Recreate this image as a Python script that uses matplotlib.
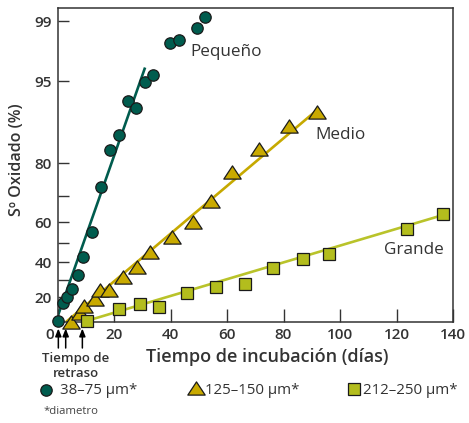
import numpy as np
import matplotlib
matplotlib.use("Agg")
import matplotlib.pyplot as plt
from matplotlib.path import Path
from matplotlib.lines import Line2D
import matplotlib.transforms as mtransforms

plt.rcParams['font.family'] = ['Open Sans', 'DejaVu Sans']

# ---------------- data ----------------
small_days = [0, 2.05, 3.3, 5.0, 7.4, 9.1, 12.2, 15.4, 18.6, 21.7, 24.8, 27.8, 31.0, 33.9, 39.8, 43.0, 49.3, 52.2]
small_pct = [10.4, 17.1, 19.8, 24.4, 32.6, 42.4, 55.4, 73.1, 83.8, 87.2, 92.8, 91.9, 94.9, 95.7, 98.17, 98.32, 98.78, 99.11]

medium_days = [4.67, 7.8, 9.4, 13.45, 15.2, 18.2, 23.2, 28.0, 32.9, 40.7, 47.9, 54.2, 61.7, 71.4, 81.9, 91.75]
medium_pct = [10.1, 12.8, 15.7, 19.0, 23.8, 23.8, 31.8, 37.1, 45.4, 52.9, 60.1, 68.3, 77.6, 83.9, 89.0, 91.3]

large_days = [10.3, 21.9, 29.2, 36.0, 45.9, 56.1, 66.4, 76.3, 86.8, 96.2, 123.8, 136.4]
large_pct = [10.4, 14.4, 16.5, 15.4, 22.3, 25.4, 27.4, 36.5, 41.5, 44.2, 56.6, 63.2]

small_fit_days = [0, 31.0]
small_fit_pct = [11.6, 96.5]
medium_fit_days = [3.0, 91.75]
medium_fit_pct = [10.0, 91.6]
large_fit_days = [9.0, 136.4]
large_fit_pct = [10.0, 62.8]

lag_days = [0.3, 2.9, 8.8]

y_major = [20, 40, 60, 80, 95, 99]
y_minor = [30, 50, 70]
x_ticks = [0, 20, 40, 60, 80, 100, 120, 140]

series_labels = ["38\u201375 \u00b5m*", "125\u2013150 \u00b5m*", "212\u2013250 \u00b5m*"]
curve_names = ["Peque\u00f1o", "Medio", "Grande"]

# ------------- custom probability-like axis (hand drawn scale) -------------
P_ANCH = np.array([1, 10, 20, 30, 40, 50, 60, 70, 80, 95, 99, 99.9])
U_ANCH = np.array([-74, 0, 25, 42, 60, 79, 100, 126, 159, 241, 301, 385], float)
L_ANCH = np.log(P_ANCH / (100 - P_ANCH))


def fwd(p):
    p = np.clip(np.asarray(p, float), 0.5, 99.95)
    L = np.log(p / (100 - p))
    return np.interp(L, L_ANCH, U_ANCH)


def inv(u):
    L = np.interp(np.asarray(u, float), U_ANCH, L_ANCH)
    return 100.0 / (1.0 + np.exp(-L))


# ---------------- figure ----------------
W, H = 469, 423
fig = plt.figure(figsize=(W / 100, H / 100), dpi=100)
fx = lambda px: px / W
fy = lambda py: 1 - py / H
ax = fig.add_axes([fx(57.5), fy(322), fx(453) - fx(57.5), fy(8) - fy(322)])
ax.set_yscale('function', functions=(fwd, inv))
ax.set_xlim(0, 140)
ax.set_ylim(10, 99.3)

teal = "#005c4e"
mustard = "#c9aa00"
olive = "#b3bd1d"
olive_line = "#b9c32a"
edge = "#1a1a1a"
txt = "#333333"

tri = Path([(0, 0.76), (-1, -0.76), (1, -0.76), (0, 0.76)],
           [Path.MOVETO, Path.LINETO, Path.LINETO, Path.CLOSEPOLY])

ax.plot(small_fit_days, small_fit_pct, color=teal, lw=1.9, zorder=2, solid_capstyle='butt')
ax.plot(medium_fit_days, medium_fit_pct, color="#c6a900", lw=1.9, zorder=2, solid_capstyle='butt')
ax.plot(large_fit_days, large_fit_pct, color=olive_line, lw=1.9, zorder=2, solid_capstyle='butt')

ax.plot(small_days, small_pct, ls='none', marker='o', ms=8.2, mfc=teal, mec=edge, mew=0.9,
        zorder=4, clip_on=False)
ax.plot(medium_days, medium_pct, ls='none', marker=tri, ms=12.5, mfc=mustard, mec=edge, mew=0.9,
        zorder=4, clip_on=False)
ax.plot(large_days, large_pct, ls='none', marker='s', ms=8.8, mfc=olive, mec=edge, mew=0.9,
        zorder=4, clip_on=False)

# ticks
ax.set_yticks(y_major)
ax.set_yticklabels([str(v) for v in y_major])
ax.set_yticks(y_minor, minor=True)
ax.yaxis.set_minor_formatter(matplotlib.ticker.NullFormatter())
ax.set_xticks(x_ticks)
ax.set_xticklabels([str(v) for v in x_ticks])
ax.xaxis.set_minor_locator(matplotlib.ticker.NullLocator())
ax.tick_params(axis='y', which='both', direction='in', length=8, width=1.0, color=txt,
               labelsize=11, labelcolor=txt, pad=4)
ax.tick_params(axis='x', which='both', direction='in', length=9.5, width=1.0, color=txt,
               labelsize=11, labelcolor=txt, pad=4.5)
for lab in ax.get_xticklabels() + ax.get_yticklabels():
    lab.set_fontweight('semibold')
first = ax.get_xticklabels()[0]
first.set_transform(first.get_transform() + mtransforms.ScaledTranslation(-8 / 100, 0, fig.dpi_scale_trans))

for s in ax.spines.values():
    s.set_linewidth(1.1)
    s.set_color(txt)

# axis labels
fig.text(fx(17), fy(160), "S\u00ba Oxidado (%)", rotation=90, ha='center', va='center',
         fontsize=11.5, fontweight='semibold', color=txt)
fig.text(fx(267), fy(357), "Tiempo de incubaci\u00f3n (d\u00edas)", ha='center', va='center',
         fontsize=13, fontweight='semibold', color=txt)

# curve names
ax.text((226 - 57.5) / 395.5, (322 - 52) / 314, curve_names[0], transform=ax.transAxes,
        ha='center', va='center', fontsize=12.3, color=txt)
ax.text((340 - 57.5) / 395.5, (322 - 135) / 314, curve_names[1], transform=ax.transAxes,
        ha='center', va='center', fontsize=12.3, color=txt)
ax.text((414 - 57.5) / 395.5, (322 - 250) / 314, curve_names[2], transform=ax.transAxes,
        ha='center', va='center', fontsize=12.3, color=txt)

# lag arrows
for d in lag_days:
    ax.annotate("", xy=(d, (322 - 328.5) / 314), xycoords=('data', 'axes fraction'),
                xytext=(d, (322 - 348) / 314), textcoords=('data', 'axes fraction'),
                arrowprops=dict(arrowstyle='-|>,head_length=0.45,head_width=0.18', color='black',
                                lw=1.1, shrinkA=0, shrinkB=0),
                annotation_clip=False)
fig.text(fx(76), fy(366), "Tiempo de\nretraso", ha='center', va='center', fontsize=9.5,
         color=txt, linespacing=1.15, fontweight='semibold')

# legend row
fig.add_artist(Line2D([fx(46)], [fy(390)], transform=fig.transFigure, ls='none', marker='o',
                      ms=8.2, mfc=teal, mec=edge, mew=0.9))
fig.text(fx(60), fy(390), series_labels[0], ha='left', va='center', fontsize=10.8, color=txt)
fig.add_artist(Line2D([fx(196)], [fy(388)], transform=fig.transFigure, ls='none', marker=tri,
                      ms=12.5, mfc=mustard, mec=edge, mew=0.9))
fig.text(fx(205), fy(390), series_labels[1], ha='left', va='center', fontsize=10.8, color=txt)
fig.add_artist(Line2D([fx(354)], [fy(389)], transform=fig.transFigure, ls='none', marker='s',
                      ms=8.8, mfc=olive, mec=edge, mew=0.9))
fig.text(fx(363), fy(390), series_labels[2], ha='left', va='center', fontsize=10.8, color=txt)
fig.text(fx(43), fy(411), "*diametro", ha='left', va='center', fontsize=8.2, color="#444444")

fig.savefig("out.png", dpi=100, facecolor='white')
